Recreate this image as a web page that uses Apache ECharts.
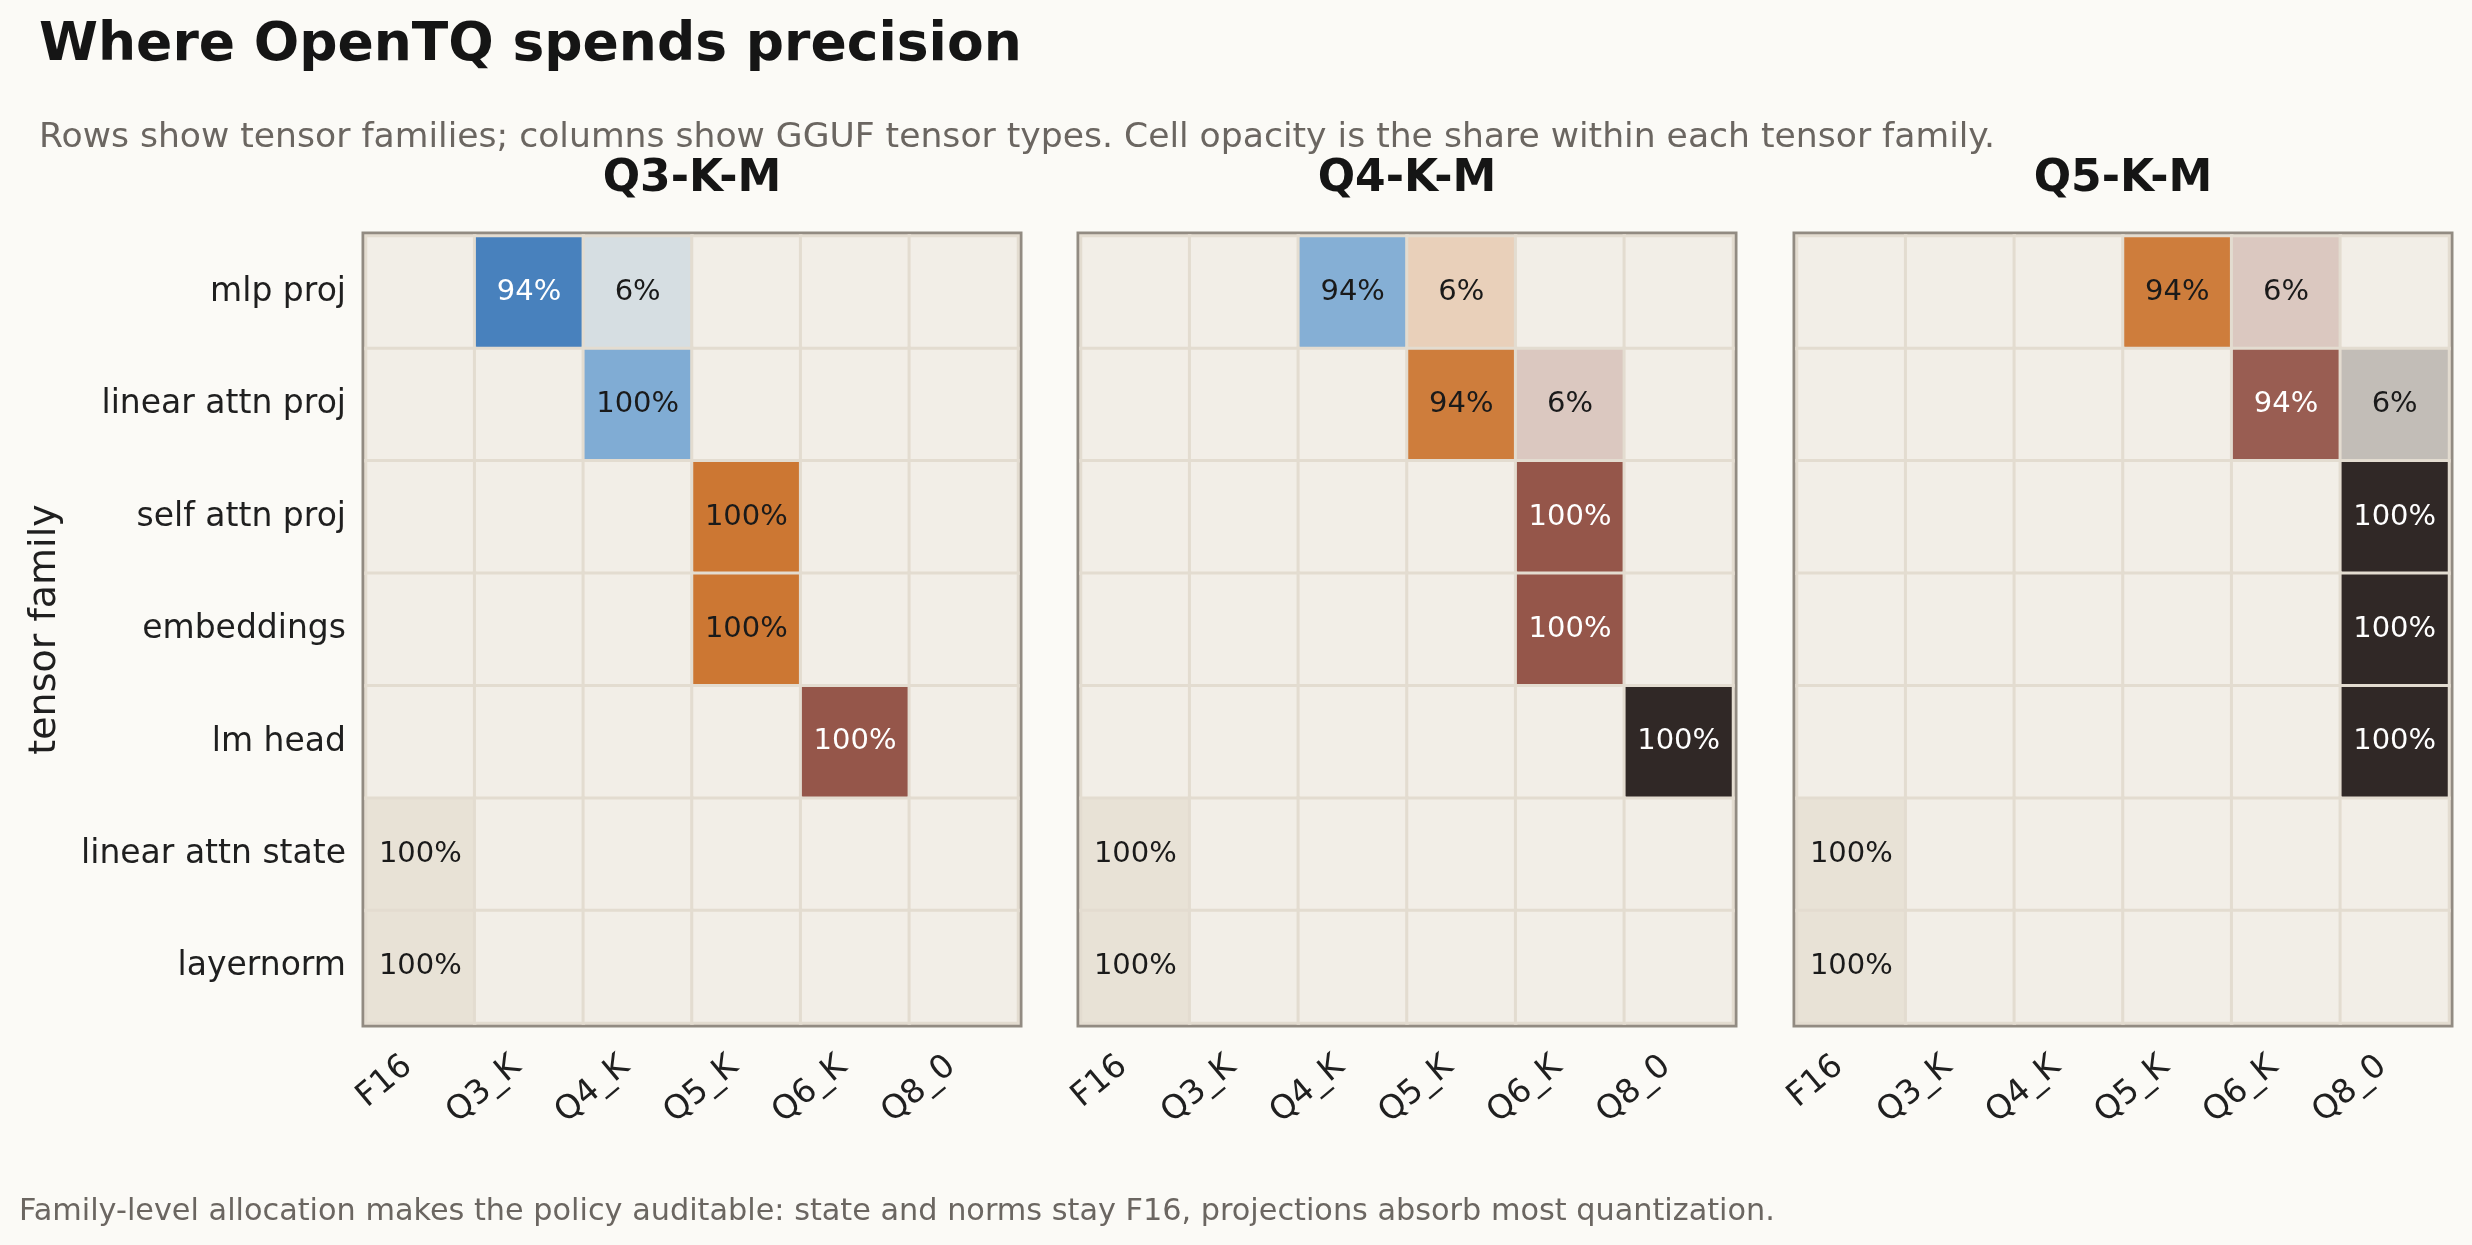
<!DOCTYPE html>
<html>
<head>
<meta charset="utf-8">
<title>Where OpenTQ spends precision</title>
<script src="https://cdn.jsdelivr.net/npm/echarts@6/dist/echarts.min.js"></script>
<style>
  html, body { margin: 0; padding: 0; background: #fbfaf6; }
  #chart { width: 2472px; height: 1245px; }
</style>
</head>
<body>
<div id="chart"></div>
<script>
// rows = tensor families, columns = GGUF tensor types, values = % share within family
const families = ['mlp proj', 'linear attn proj', 'self attn proj', 'embeddings', 'lm head', 'linear attn state', 'layernorm'];
const tensorTypes = ['F16', 'Q3_K', 'Q4_K', 'Q5_K', 'Q6_K', 'Q8_0'];
const presets = ['Q3-K-M', 'Q4-K-M', 'Q5-K-M'];

const q3kmShares = [
  [0, 94, 6, 0, 0, 0],
  [0, 0, 100, 0, 0, 0],
  [0, 0, 0, 100, 0, 0],
  [0, 0, 0, 100, 0, 0],
  [0, 0, 0, 0, 100, 0],
  [100, 0, 0, 0, 0, 0],
  [100, 0, 0, 0, 0, 0]
];
const q4kmShares = [
  [0, 0, 94, 6, 0, 0],
  [0, 0, 0, 94, 6, 0],
  [0, 0, 0, 0, 100, 0],
  [0, 0, 0, 0, 100, 0],
  [0, 0, 0, 0, 0, 100],
  [100, 0, 0, 0, 0, 0],
  [100, 0, 0, 0, 0, 0]
];
const q5kmShares = [
  [0, 0, 0, 94, 6, 0],
  [0, 0, 0, 0, 94, 6],
  [0, 0, 0, 0, 0, 100],
  [0, 0, 0, 0, 0, 100],
  [0, 0, 0, 0, 0, 100],
  [100, 0, 0, 0, 0, 0],
  [100, 0, 0, 0, 0, 0]
];
const presetShares = [q3kmShares, q4kmShares, q5kmShares];

// styling
const typeColors = ['#e8e2d6', '#3f7cbb', '#80acd4', '#cc7733', '#95564a', '#302826'];
const emptyColor = '#f2eee7';
const lineColor = '#e3dcd0';
const frameColor = '#928b82';
const font = 'DejaVu Sans';
const gridLefts = [366, 1081, 1797];
const gridWidth = 652;
const gridTop = 236;
const gridHeight = 787;

function hexRgb(hex) {
  const n = parseInt(hex.slice(1), 16);
  return [(n >> 16) & 255, (n >> 8) & 255, n & 255];
}

// opacity grows with share: 0.2 + 0.8 * share, laid over the empty cell colour
function cellColor(typeIdx, share) {
  const a = 0.2 + 0.8 * share / 100;
  const fg = hexRgb(typeColors[typeIdx]);
  const bg = hexRgb(emptyColor);
  return fg.map((v, i) => Math.round(bg[i] + (v - bg[i]) * a));
}

function buildCells(shares) {
  const out = [];
  shares.forEach((row, r) => {
    row.forEach((v, c) => {
      let fill = emptyColor, ink = '#1a1a1a';
      if (v) {
        const rgb = cellColor(c, v);
        fill = 'rgb(' + rgb.join(',') + ')';
        const lum = (0.299 * rgb[0] + 0.587 * rgb[1] + 0.114 * rgb[2]) / 255;
        ink = lum < 0.5 ? '#ffffff' : '#1a1a1a';
      }
      out.push({
        value: [c, r, v],
        itemStyle: { color: fill },
        label: { show: v > 0, color: ink }
      });
    });
  });
  return out;
}

const chart = echarts.init(document.getElementById('chart'));

const titles = [
  {
    text: 'Where OpenTQ spends precision', left: 39, top: 19, padding: 0,
    textStyle: { fontFamily: font, fontSize: 53.5, fontWeight: 'bold', color: '#151515' }
  },
  {
    text: 'Rows show tensor families; columns show GGUF tensor types. Cell opacity is the share within each tensor family.',
    left: 39, top: 121, padding: 0,
    textStyle: { fontFamily: font, fontSize: 34.6, fontWeight: 'normal', color: '#6b6661' }
  },
  {
    text: 'Family-level allocation makes the policy auditable: state and norms stay F16, projections absorb most quantization.',
    left: 19, top: 1197, padding: 0,
    textStyle: { fontFamily: font, fontSize: 30.3, fontWeight: 'normal', color: '#6b6661' }
  }
];
presets.forEach((p, i) => {
  titles.push({
    text: p, left: gridLefts[i] + gridWidth / 2, top: 158, padding: 0, textAlign: 'center',
    textStyle: { fontFamily: font, fontSize: 44, fontWeight: 'bold', color: '#151515' }
  });
});

const grids = gridLefts.map(left => ({
  left: left, top: gridTop, width: gridWidth, height: gridHeight,
  show: true, backgroundColor: emptyColor, borderColor: frameColor, borderWidth: 9
}));

const xAxes = presets.map((p, i) => ({
  type: 'category', gridIndex: i, data: tensorTypes,
  axisLine: { show: false }, axisTick: { show: false }, splitLine: { show: false },
  axisLabel: {
    rotate: 40, interval: 0, margin: 29, padding: [0, 16, 0, 0],
    fontFamily: font, fontSize: 33, color: '#1f1f1f'
  }
}));

const yAxes = presets.map((p, i) => ({
  type: 'category', gridIndex: i, data: families, inverse: true,
  axisLine: { show: false }, axisTick: { show: false }, splitLine: { show: false },
  axisLabel: { show: i === 0, margin: 20, fontFamily: font, fontSize: 33, color: '#1f1f1f' },
  name: i === 0 ? 'tensor family' : '',
  nameLocation: 'middle', nameGap: 302, nameRotate: 90,
  nameTextStyle: { fontFamily: font, fontSize: 38, color: '#1f1f1f' }
}));

const series = presets.map((p, i) => ({
  type: 'heatmap', name: p, xAxisIndex: i, yAxisIndex: i,
  data: buildCells(presetShares[i]),
  itemStyle: { borderColor: lineColor, borderWidth: 3 },
  label: {
    show: true, fontFamily: font, fontSize: 29,
    formatter: prm => prm.value[2] + '%'
  },
  emphasis: { disabled: true }
}));

chart.setOption({
  backgroundColor: '#fbfaf6',
  animation: false,
  title: titles,
  grid: grids,
  xAxis: xAxes,
  yAxis: yAxes,
  series: series
});
window.addEventListener('resize', () => chart.resize());
</script>
</body>
</html>
